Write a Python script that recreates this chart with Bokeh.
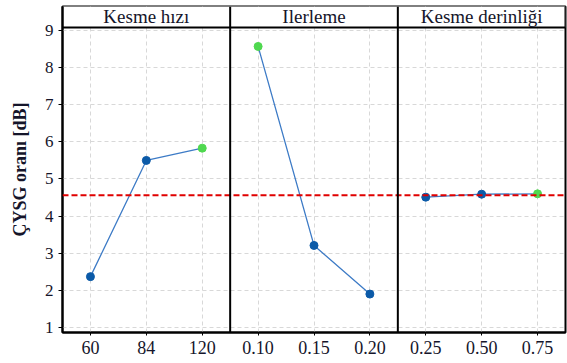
from bokeh.plotting import figure
from bokeh.models import FactorRange, Range1d, Span, FixedTicker, ColumnDataSource
from bokeh.core.properties import value
from bokeh.embed import file_html
from bokeh.resources import INLINE

# ---- data ----
headers = ["Kesme hızı", "Ilerleme", "Kesme derinliği"]
levels_hiz = ["60", "84", "120"]
levels_ilerleme = ["0.10", "0.15", "0.20"]
levels_derinlik = ["0.25", "0.50", "0.75"]
sn_hiz = [2.37, 5.50, 5.83]
sn_ilerleme = [8.57, 3.21, 1.90]
sn_derinlik = [4.51, 4.59, 4.60]
yticks = [1, 2, 3, 4, 5, 6, 7, 8, 9]

groups = [levels_hiz, levels_ilerleme, levels_derinlik]
values = [sn_hiz, sn_ilerleme, sn_derinlik]
factors = levels_hiz + levels_ilerleme + levels_derinlik
all_vals = sn_hiz + sn_ilerleme + sn_derinlik
mean_sn = sum(all_vals) / len(all_vals)

FONT = "Liberation Serif"
TXT = "#15152a"
y_start, y_end = 0.865, 9.646
header_bottom = 9.081
header_text_y = 9.37

p = figure(x_range=FactorRange(*factors), y_range=Range1d(y_start, y_end),
           width=567, height=360, output_backend="svg", toolbar_location=None,
           min_border_left=62, min_border_right=2, min_border_top=6, min_border_bottom=28,
           background_fill_color="white", border_fill_color="white")

p.outline_line_color = "black"
p.outline_line_width = 2

for g in (p.xgrid, p.ygrid):
    g.grid_line_color = "#d8d8d8"
    g.grid_line_dash = "4 3"
    g.grid_line_width = 1

# y axis
p.yaxis.ticker = FixedTicker(ticks=yticks)
p.yaxis.axis_label = "ÇYSG oranı [dB]"
p.yaxis.axis_label_text_font = FONT
p.yaxis.axis_label_text_font_style = "bold"
p.yaxis.axis_label_text_font_size = "18px"
p.yaxis.axis_label_text_color = TXT
p.yaxis.axis_label_standoff = 12
p.yaxis.major_label_text_font = FONT
p.yaxis.major_label_text_font_size = "17px"
p.yaxis.major_label_text_color = TXT
p.yaxis.major_label_standoff = 5
p.yaxis.major_tick_out = 4
p.yaxis.major_tick_in = 0
p.yaxis.minor_tick_line_color = None
p.yaxis.axis_line_width = 2
p.yaxis.axis_line_color = "black"
p.yaxis.major_tick_line_color = "black"

# x axis
p.xaxis.major_label_text_font = FONT
p.xaxis.major_label_text_font_size = "18px"
p.xaxis.major_label_text_color = TXT
p.xaxis.major_label_standoff = 5
p.xaxis.major_tick_out = 3
p.xaxis.major_tick_in = 0
p.xaxis.axis_line_width = 2
p.xaxis.axis_line_color = "black"
p.xaxis.major_tick_line_color = "black"

# header strip
p.quad(left=[0], right=[len(factors)], bottom=[header_bottom], top=[y_end + 1],
       fill_color="white", line_color="black", line_width=2)
mid_levels = [g[len(g) // 2] for g in groups]
p.text(x=mid_levels, y=[header_text_y] * len(headers), text=headers,
       text_font=value(FONT), text_font_size="19px", text_align="center",
       text_baseline="middle", text_color=TXT)

# mean line
p.add_layout(Span(location=mean_sn, dimension="width", line_color="#e00000",
                  line_width=2, line_dash="6 3"))

# panel separators
pos = 0
for g in groups[:-1]:
    pos += len(g)
    p.add_layout(Span(location=pos, dimension="height", line_color="black", line_width=2))

# lines and points (best level of each factor in green)
for lv, vals in zip(groups, values):
    mx = max(vals)
    cols = ["#4fd84f" if v == mx else "#0b5aa8" for v in vals]
    src = ColumnDataSource(dict(x=lv, y=vals, c=cols))
    p.line(x="x", y="y", source=src, line_color="#3d7bc6", line_width=1.3)
    p.scatter(x="x", y="y", source=src, size=8, fill_color="c", line_color="c")

open("out.html", "w").write(file_html(p, INLINE))
